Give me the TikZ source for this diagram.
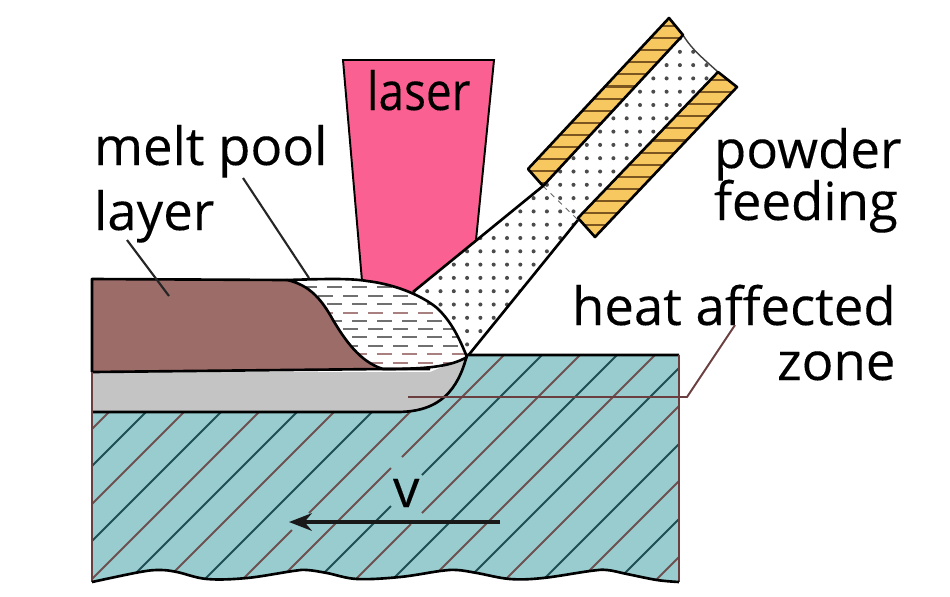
\documentclass[tikz,border=0pt]{standalone}
\usepackage{fontspec}
\setmainfont{Open Sans}
\newfontfamily\labfont[FakeBold=0.2]{Open Sans}
\usetikzlibrary{arrows.meta}
\definecolor{pinkL}{HTML}{FB6092}
\definecolor{teal}{HTML}{98CCCF}
\definecolor{grayZ}{HTML}{C4C4C4}
\definecolor{brownL}{HTML}{9C6C68}
\definecolor{yell}{HTML}{F8C860}
\definecolor{stripe}{HTML}{7A5520}
\definecolor{hatchA}{HTML}{1F4F55}
\definecolor{hatchB}{HTML}{6E5050}
\definecolor{leader}{HTML}{6B3F3F}
\definecolor{dashG}{HTML}{707070}
\definecolor{dashB}{HTML}{A98080}
\tikzset{
  x=0.02cm,y=-0.02cm,
  outline/.style={line width=1.5pt,black,line join=round},
  thinleader/.style={line width=1.1pt,leader},
  lab/.style={inner sep=0pt,outer sep=0pt,anchor=base west,font=\labfont\fontsize{30}{32}\selectfont,text=black},
  hatchline/.style={line width=1.05pt},
  substrate/.style={insert path={
    (92,412) -- (397,412) .. controls (440,412) and (458,390) .. (467,355)
    -- (679,355) -- (679,582)
    -- plot[smooth,tension=.6] coordinates {(679,582) (657,580) (627,574) (607,570) (590,571) (543,578) (510,579) (477,573) (457,570) (440,571) (400,577) (357,579) (327,573) (307,570) (293,571) (247,578) (207,579) (177,572) (160,570) (140,572) (92,582)}
    -- cycle}},
  melt/.style={insert path={
    (287,280) .. controls (320,279) and (350,278) .. (367,281)
    .. controls (400,285) and (425,298) .. (437,308)
    .. controls (452,322) and (460,340) .. (467,357)
    .. controls (450,367) and (425,369) .. (383,369)
    .. controls (360,362) and (345,340) .. (333,320)
    .. controls (322,300) and (310,285) .. (287,280) -- cycle}},
  nozwalla/.style={insert path={(669,18) -- (683,35) -- (543,186) -- (528,169) -- cycle}},
  nozwallb/.style={insert path={(718,72) -- (737,87) -- (595,237) -- (578,218) -- cycle}},
  interior/.style={insert path={(413,292) -- (543,186) -- (683,35) .. controls (692,50) and (705,60) .. (718,72) -- (578,218) -- (467,357) -- cycle}},
}
\begin{document}
\begin{tikzpicture}
\useasboundingbox (0,0) rectangle (950,596);
\fill[white] (0,0) rectangle (950,596);

% laser
\fill[pinkL] (343,60) -- (494,60) -- (476,241) -- (413,294) -- (362,283) -- cycle;
\draw[line width=1.1pt,black] (362,281) -- (343,60) -- (494,60) -- (476,240);

% powder interior and dots
\fill[white,interior];
\begin{scope}
  \clip[interior];
  \foreach \i in {0,...,26}{
    \foreach \j in {0,...,24}{
      \fill[black!70] ({413.9+13.3*\j},{25.2+13.3*\i}) circle (1.15pt);
    }
  }
\end{scope}
\draw[outline] (413,292) -- (543,186);
\draw[outline] (578,220) -- (467,357);
\draw[line width=0.8pt,black!75] (683,35) .. controls (692,50) and (705,60) .. (718,72);
\draw[line width=0.5pt,black!60,dashed] (543,186) -- (578,220);

% nozzle walls
\fill[yell,nozwalla];
\fill[yell,nozwallb];
\begin{scope}
  \clip[nozwalla];
  \foreach \k in {0,...,18}{
    \draw[stripe,line width=1.2pt] (520,{26+12.1*\k}) -- (700,{26+12.1*\k});
  }
\end{scope}
\begin{scope}
  \clip[nozwallb];
  \foreach \k in {0,...,14}{
    \draw[stripe,line width=1.2pt] (570,{80+12.1*\k}) -- (745,{80+12.1*\k});
  }
\end{scope}
\draw[outline,nozwalla];
\draw[outline,nozwallb];

% substrate
\fill[teal,substrate];
\begin{scope}
  \clip[substrate];
  \foreach \u/\c in {521/hatchB,558/hatchA,596/hatchB,633/hatchA,671/hatchB,709/hatchA,746/hatchB,784/hatchA,972/hatchA,1010/hatchB,1047/hatchA,1085/hatchB,1123/hatchA,1160/hatchB,1198/hatchA,1236/hatchB}{
    \draw[hatchline,\c] ({\u-340},340) -- ({\u-600},600);
  }
  \draw[hatchline,hatchB] ({822-340},340) -- ({822-513},513);
  \draw[hatchline,hatchB] ({822-530},530) -- ({822-600},600);
  \draw[hatchline,hatchB] ({859-340},340) -- ({859-457},457);
  \draw[hatchline,hatchB] ({859-468},468) -- ({859-600},600);
  \draw[hatchline,hatchA] ({897-340},340) -- ({897-475},475);
  \draw[hatchline,hatchA] ({897-506},506) -- ({897-600},600);
  \draw[hatchline,hatchB] ({935-340},340) -- ({935-513},513);
  \draw[hatchline,hatchB] ({935-524},524) -- ({935-600},600);
\end{scope}

% heat affected zone
\fill[grayZ] (92,372) -- (430,372) -- (467,357) .. controls (458,390) and (440,412) .. (397,412) -- (92,412) -- cycle;
% layer
\fill[brownL] (92,279) -- (287,280) .. controls (310,285) and (322,300) .. (333,320) .. controls (345,340) and (360,362) .. (383,369) -- (92,372) -- cycle;
% melt pool
\fill[white,melt];
\begin{scope}
  \clip[melt];
  \foreach \y/\s/\c in {287/2/dashG,296/18/dashG,304/2/dashG,313/18/dashB,321/2/dashG,329/18/dashG,337/2/dashG,346/18/dashG,354/2/dashB,363/18/dashB}{
    \foreach \k in {0,...,7}{
      \draw[\c,line width=1.5pt] ({300+\s+25*\k},\y) -- ({315+\s+25*\k},\y);
    }
  }
\end{scope}

% outlines
\draw[outline] (92,372) -- (92,279) -- (287,280);
\draw[outline,melt];
\draw[outline] (92,372) -- (383,369) -- (430,369);
\draw[outline] (92,412) -- (397,412) .. controls (440,412) and (458,390) .. (467,355) -- (679,355);
\draw[line width=1.5pt,leader] (92,372) -- (92,582);
\draw[line width=1.5pt,leader] (679,355) -- (679,582);
\draw[outline] plot[smooth,tension=.6] coordinates {(679,582) (657,580) (627,574) (607,570) (590,571) (543,578) (510,579) (477,573) (457,570) (440,571) (400,577) (357,579) (327,573) (307,570) (293,571) (247,578) (207,579) (177,572) (160,570) (140,572) (92,582)};

% labels
\node[lab] (laserL) at (367,110) {\scalebox{0.87}[1]{laser}};
\node[lab] (meltL) at (94,165) {melt pool};
\node[lab] (layerL) at (94,230) {layer};
\node[lab] (powderL) at (714,168) {powder};
\node[lab] (feedL) at (714,220) {feeding};
\node[lab] (heatL) at (572,325) {heat affected};
\node[lab] (zoneL) at (777,380) {zone};
\node[lab] (vL) at (393,507) {v};

% leaders
\coordinate (meltA) at (243,178);
\coordinate (meltB) at (309,278);
\coordinate (layerA) at (127,240);
\coordinate (layerB) at (169,296);
\coordinate (heatA) at (735,325);
\coordinate (heatB) at (687,397);
\coordinate (heatC) at (408,397);
\draw[line width=1.2pt,black!85] (meltA) -- (meltB);
\draw[line width=1.2pt,black!85] (layerA) -- (layerB);
\draw[thinleader] (heatA) -- (heatB) -- (heatC);

% speed arrow
\coordinate (arrowA) at (500,522);
\coordinate (arrowB) at (289,522);
\draw[line width=1.9pt,black!90,-{Stealth[length=13pt,width=10pt]}] (arrowA) -- (arrowB);
\end{tikzpicture}
\end{document}
